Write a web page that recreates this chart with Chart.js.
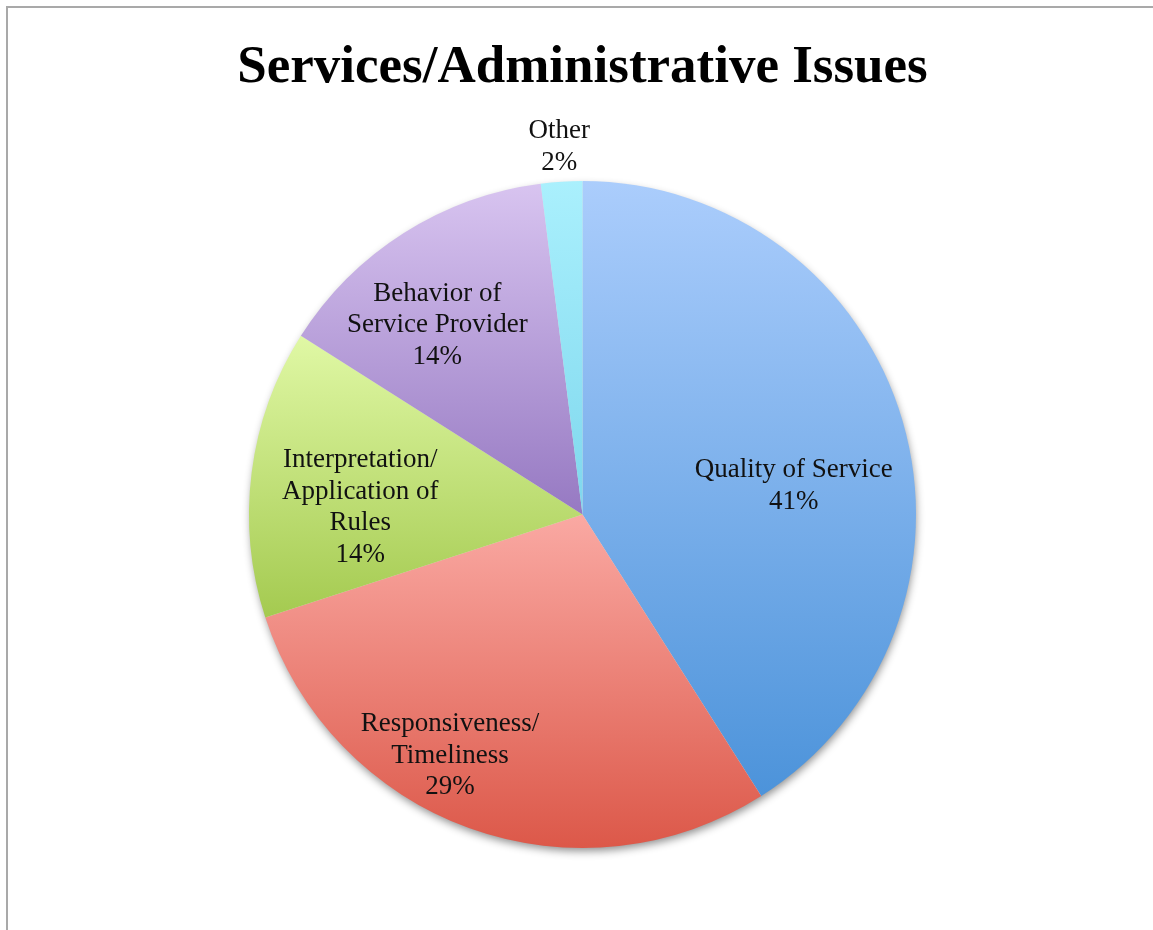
<!DOCTYPE html>
<html>
<head>
<meta charset="utf-8">
<title>Services/Administrative Issues</title>
<script src="https://cdn.jsdelivr.net/npm/chart.js@4.4.1/dist/chart.umd.min.js"></script>
<style>
  html, body { margin: 0; padding: 0; background: #fff; overflow: hidden; }
  #frame {
    position: absolute; left: 6px; top: 6px; width: 1200px; height: 1000px;
    border: 2px solid #a9a9a9; box-sizing: border-box;
  }
  #wrap { position: absolute; left: 0; top: 0; width: 1153px; height: 930px; }
</style>
</head>
<body>
<div id="frame"></div>
<div id="wrap"><canvas id="issuesChart"></canvas></div>
<script>
const categories = [
  ["Quality of Service"],
  ["Responsiveness/", "Timeliness"],
  ["Interpretation/", "Application of", "Rules"],
  ["Behavior of", "Service Provider"],
  ["Other"]
];
const shares = [41, 29, 14, 14, 2];

// light top / dark bottom colour of each slice
const topColors = ["#abcdfc", "#faa9a3", "#e0f8a5", "#d8c4f0", "#aaf0fd"];
const bottomColors = ["#4c93da", "#dc5849", "#a4ca50", "#9679c2", "#7ed7ed"];

// label placement: fraction of radius, angle nudge in degrees
const labelRadius = [0.64, 0.82, 0.667, 0.72, 1.11];
const labelNudge = [7.9, 9.2, -4.9, -4.8, 0];

const total = shares.reduce((a, b) => a + b, 0);

function sliceGradient(c) {
  const chart = c.chart;
  const area = chart.chartArea;
  const i = c.dataIndex;
  if (!area) return topColors[i];
  const cx = (area.left + area.right) / 2;
  const cy = (area.top + area.bottom) / 2;
  const r = Math.min(area.right - area.left, area.bottom - area.top) / 2;
  const before = shares.slice(0, i).reduce((a, b) => a + b, 0);
  const a0 = before / total * Math.PI * 2;
  const a1 = (before + shares[i]) / total * Math.PI * 2;
  const ys = [cy, cy - r * Math.cos(a0), cy - r * Math.cos(a1)];
  if (a0 <= 0) ys.push(cy - r);
  if (a0 <= Math.PI && a1 >= Math.PI) ys.push(cy + r);
  const g = chart.ctx.createLinearGradient(0, Math.min(...ys), 0, Math.max(...ys));
  g.addColorStop(0, topColors[i]);
  g.addColorStop(1, bottomColors[i]);
  return g;
}

// soft drop shadow under the whole pie
const pieShadow = {
  id: "pieShadow",
  beforeDatasetsDraw(chart) {
    const arc = chart.getDatasetMeta(0).data[0];
    if (!arc) return;
    const ctx = chart.ctx;
    ctx.save();
    ctx.shadowColor = "rgba(0,0,0,0.45)";
    ctx.shadowBlur = 9;
    ctx.shadowOffsetX = 1;
    ctx.shadowOffsetY = 4;
    ctx.fillStyle = "#e0e0e0";
    ctx.beginPath();
    ctx.arc(arc.x, arc.y, arc.outerRadius - 1, 0, Math.PI * 2);
    ctx.fill();
    ctx.restore();
  }
};

// category name plus percentage written in each slice
const sliceLabels = {
  id: "sliceLabels",
  afterDatasetsDraw(chart) {
    const ctx = chart.ctx;
    const lh = 31.5;
    ctx.save();
    ctx.font = "27px 'Liberation Serif', serif";
    ctx.fillStyle = "#111";
    ctx.textAlign = "center";
    ctx.textBaseline = "middle";
    chart.getDatasetMeta(0).data.forEach((arc, i) => {
      const mid = (arc.startAngle + arc.endAngle) / 2 + labelNudge[i] * Math.PI / 180;
      const rr = arc.outerRadius * labelRadius[i];
      const x = arc.x + Math.cos(mid) * rr;
      const y = arc.y + Math.sin(mid) * rr + 2;
      const lines = categories[i].concat([Math.round(shares[i] / total * 100) + "%"]);
      const y0 = y - (lines.length - 1) * lh / 2;
      lines.forEach((t, k) => ctx.fillText(t, x, y0 + k * lh));
    });
    ctx.restore();
  }
};

new Chart(document.getElementById("issuesChart"), {
  type: "pie",
  data: {
    labels: categories.map(l => l.join(" ")),
    datasets: [{
      data: shares,
      backgroundColor: sliceGradient,
      borderWidth: 0
    }]
  },
  options: {
    responsive: true,
    maintainAspectRatio: false,
    animation: false,
    layout: { padding: { left: 12, right: 0, top: 0, bottom: 82 } },
    plugins: {
      legend: { display: false },
      tooltip: { enabled: false },
      title: {
        display: true,
        text: "Services/Administrative Issues",
        color: "#000",
        font: { family: "'Liberation Serif', serif", size: 53, weight: "bold", lineHeight: 1.2 },
        padding: { top: 37, bottom: 80.4 }
      }
    }
  },
  plugins: [pieShadow, sliceLabels]
});
</script>
</body>
</html>
